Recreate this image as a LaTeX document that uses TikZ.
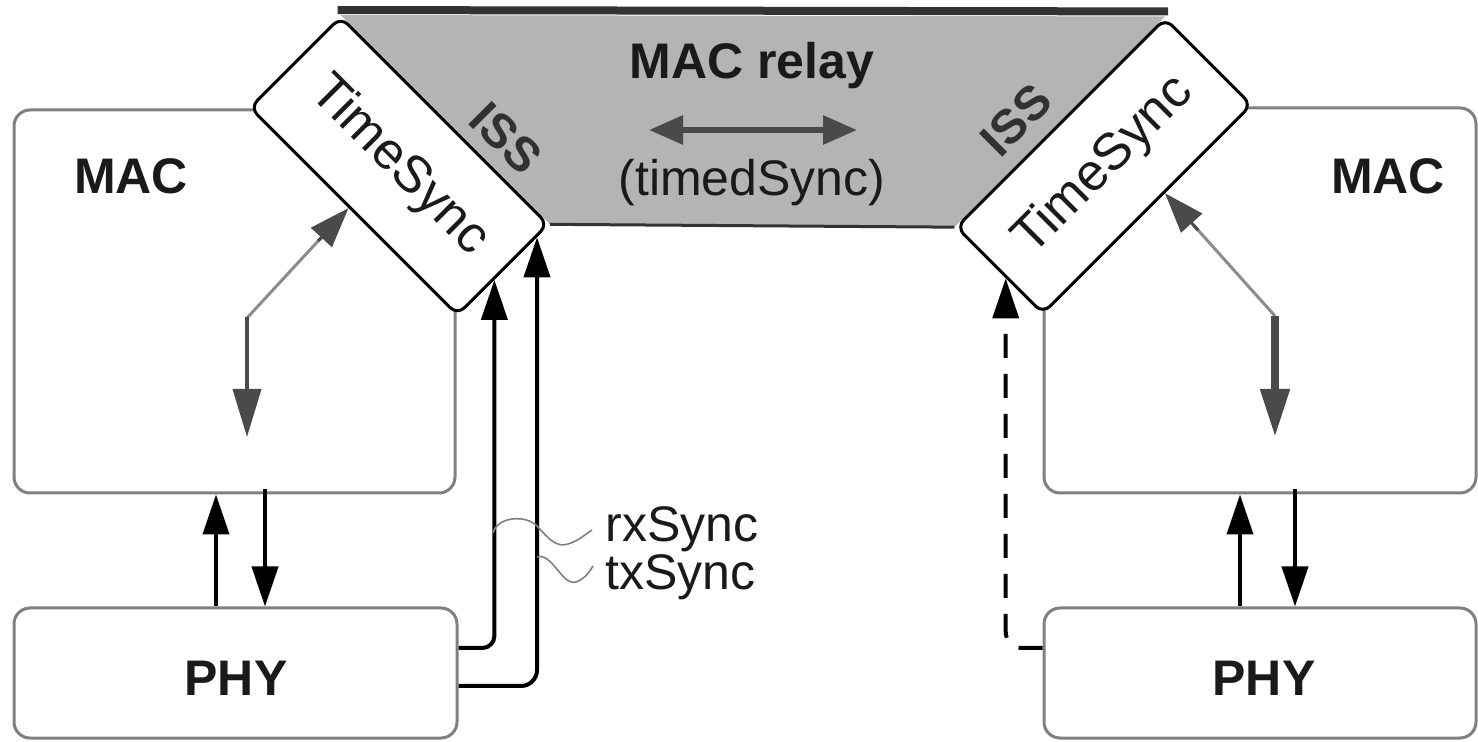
\documentclass[tikz,border=0pt]{standalone}
\usepackage{fontspec}
\setmainfont{Liberation Sans}
\usetikzlibrary{arrows.meta,calc}
\definecolor{boxgray}{HTML}{808080}
\definecolor{relaygray}{HTML}{B4B4B4}
\definecolor{bardark}{HTML}{333333}
\definecolor{arrgray}{HTML}{4A4A4A}
\definecolor{diaggray}{HTML}{8C8C8C}
\definecolor{inkblack}{HTML}{1A1A1A}
\pgfdeclarelayer{back}
\pgfdeclarelayer{mid}
\pgfsetlayers{back,mid,main}
\begin{document}
\begin{tikzpicture}[x=0.5pt,y=-0.5pt,
  layerbox/.style={draw=boxgray, line width=1.5pt, rounded corners=8pt, fill=white, inner sep=0pt},
  tsbox/.style={draw=black, line width=1.5pt, rounded corners=5pt, fill=white, inner sep=0pt,
    font=\fontsize{26}{30}\selectfont, text=inkblack},
  boldlbl/.style={font=\fontsize{25}{30}\selectfont\bfseries, inner sep=0pt, text=inkblack},
  isslbl/.style={font=\fontsize{24}{28}\selectfont\bfseries, inner sep=0pt, text=inkblack!90},
  plainlbl/.style={font=\fontsize{25}{30}\selectfont, inner sep=0pt, text=inkblack},
  blackarrow/.style={draw=black, line width=2pt, -{Triangle[length=20pt,width=13pt]}},
  diagline/.style={draw=diaggray, line width=1.5pt},
  leader/.style={draw=gray, line width=0.8pt}
]
\useasboundingbox (0,0) rectangle (1478,742);

% TimeSync boxes
\node[tsbox, rotate=-45, minimum width=146.5pt, minimum height=64pt] (LTS) at (399,166) {TimeSync};
\node[tsbox, rotate=45, minimum width=147.5pt, minimum height=61pt] (RTS) at (1104,166) {TimeSync};

\begin{pgfonlayer}{back}
% layer boxes
\node[layerbox, minimum width=220.5pt, minimum height=191.5pt] (LM) at (234.5,301.5) {};
\node[layerbox, minimum width=221.5pt, minimum height=65pt] (LP) at (235.5,673) {};
\node[layerbox, minimum width=216pt, minimum height=192.5pt] (RM) at (1260,300.5) {};
\node[layerbox, minimum width=216pt, minimum height=65pt] (RP) at (1260,673) {};
\end{pgfonlayer}

\begin{pgfonlayer}{mid}
% MAC relay region
\fill[relaygray] (LTS.north west) -- (RTS.north east) -- (RTS.north west) -- (LTS.north east) -- cycle;
\draw[bardark, line width=1.5pt] (LTS.north east) -- (RTS.north west);
\end{pgfonlayer}

% top bar
\draw[bardark, line width=4pt] ($(LTS.north west)+(-3,-5)$) -- ($(RTS.north east)+(3,-5)$);

% labels
\node[boldlbl] (relay) at (752,66) {MAC relay};
\node[plainlbl] (timed) at (752,183) {(timedSync)};
\node[isslbl, rotate=-45] (issL) at (506,138) {ISS};
\node[isslbl, rotate=45] (issR) at (1016,120) {ISS};
\node[boldlbl] (LMt) at (131,176) {MAC};
\node[boldlbl] (RMt) at (1388,176) {MAC};
\node[boldlbl] (LPt) at (236,678) {PHY};
\node[boldlbl] (RPt) at (1264,678) {PHY};
\node[plainlbl, anchor=base west] (rxl) at (605,542) {rxSync};
\node[plainlbl, anchor=base west] (txl) at (605,590) {txSync};

% relay double arrow
\coordinate (ra) at (649,130);
\coordinate (rb) at (857,130);
\draw[draw=arrgray, line width=3pt, {Triangle[length=17pt,width=14pt]}-{Triangle[length=17pt,width=14pt]}] (ra) -- (rb);

% gray arrows inside MAC boxes
\coordinate (lk) at (247,318);
\coordinate (lkd) at (247,437);
\coordinate (lkt) at ($(LTS.south west)!0.48!(LTS.south east)$);
\draw[diagline] (lk) -- ($(lk)!0.75!(lkt)$);
\draw[draw=arrgray, line width=1.5pt, -{Triangle[length=20pt,width=14pt]}] ($(lk)!0.7!(lkt)$) -- (lkt);
\draw[draw=arrgray, line width=2pt, -{Triangle[length=24pt,width=14pt]}] ([yshift=0.5pt]lk) -- (lkd);

\coordinate (rk) at (1275,316);
\coordinate (rkd) at (1275,437);
\coordinate (rkt) at ($(RTS.south west)!0.58!(RTS.south east)$);
\draw[diagline] (rk) -- ($(rk)!0.75!(rkt)$);
\draw[draw=arrgray, line width=1.5pt, -{Triangle[length=20pt,width=14pt]}] ($(rk)!0.7!(rkt)$) -- (rkt);
\draw[draw=arrgray, line width=4pt, -{Triangle[length=24pt,width=14pt]}] (rk) -- (rkd);

% MAC <-> PHY arrows
\draw[blackarrow] ($(LP.north)+(-19.5,0)$) -- ($(LM.south)+(-18.5,0)$);
\draw[blackarrow] ($(LM.south)+(30.5,-5)$) -- ($(LP.north)+(29.5,0)$);
\draw[blackarrow] ($(RP.north)+(-20,0)$) -- ($(RM.south)+(-20,0)$);
\draw[blackarrow] ($(RM.south)+(35,-5)$) -- ($(RP.north)+(35,0)$);

% sync lines
\coordinate (rxs) at ($(LP.east)+(0,-25)$);
\coordinate (rxe) at ($(LTS.south east)!0.40!(LTS.north east)$);
\coordinate (txs) at ($(LP.east)+(0,13)$);
\coordinate (txe) at ($(LTS.south east)!0.86!(LTS.north east)$);
\draw[blackarrow, rounded corners=6pt] (rxs) -| (rxe);
\draw[blackarrow, rounded corners=8pt] (txs) -| (txe);

\coordinate (dss) at ($(RP.west)+(0,-25)$);
\coordinate (dse) at ($(RTS.south west)!0.42!(RTS.north west)$);
\draw[blackarrow, dash pattern=on 12pt off 8pt, rounded corners=8pt] (dss) -| (dse);

% leaders
\draw[leader] (493,533) .. controls (497,517) and (525,514) .. (537,526)
  .. controls (548,538) and (556,548) .. (568,544)
  .. controls (578,541) and (586,534) .. (592,530);
\draw[leader] (537,557) .. controls (552,552) and (562,586) .. (576,582)
  .. controls (585,579) and (590,571) .. (593,566);
\end{tikzpicture}
\end{document}
